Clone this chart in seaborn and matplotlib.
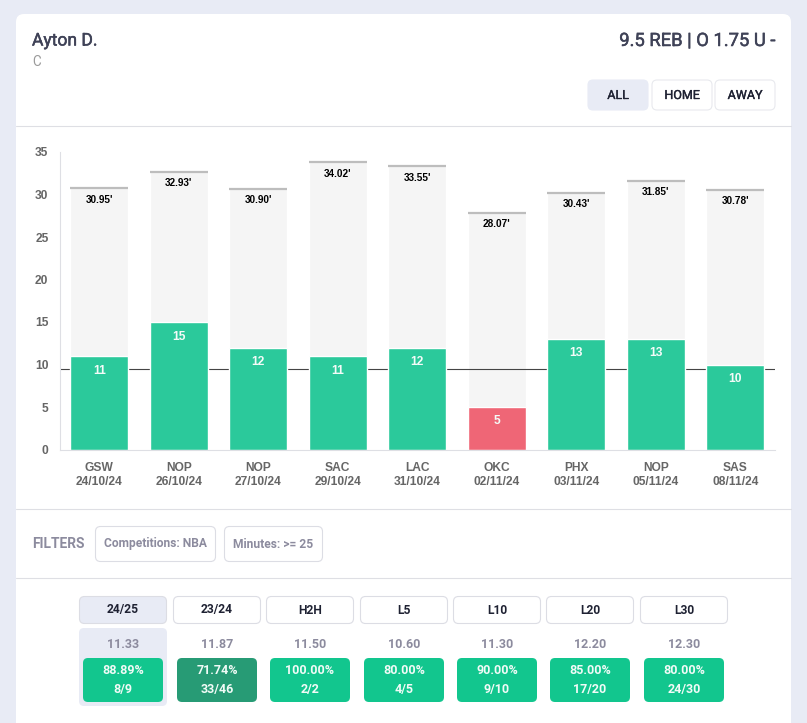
import matplotlib
matplotlib.use("Agg")
import matplotlib.patheffects as pe
import matplotlib.pyplot as plt
import matplotlib.transforms as mtrans
import pandas as pd
import seaborn as sns
from matplotlib.patches import FancyBboxPatch

W, H = 807, 723

opponents = ["GSW", "NOP", "NOP", "SAC", "LAC", "OKC", "PHX", "NOP", "SAS"]
dates = ["24/10/24", "26/10/24", "27/10/24", "29/10/24", "31/10/24", "02/11/24", "03/11/24", "05/11/24", "08/11/24"]
rebounds = [11, 15, 12, 11, 12, 5, 13, 13, 10]
minutes = [30.95, 32.93, 30.90, 34.02, 33.55, 28.07, 30.43, 31.85, 30.78]
prop_line = 9.5
y_ticks = [0, 5, 10, 15, 20, 25, 30, 35]

side_buttons = ["ALL", "HOME", "AWAY"]
filter_chips = ["Competitions: NBA", "Minutes: >= 25"]
tab_names = ["24/25", "23/24", "H2H", "L5", "L10", "L20", "L30"]
tab_avgs = ["11.33", "11.87", "11.50", "10.60", "11.30", "12.20", "12.30"]
tab_pcts = ["88.89%", "71.74%", "100.00%", "80.00%", "90.00%", "85.00%", "80.00%"]
tab_counts = ["8/9", "33/46", "2/2", "4/5", "9/10", "17/20", "24/30"]

BG = "#E8EBF5"
GREEN = "#2BC99B"
RED = "#EF6676"
GREY_BAR = "#F5F5F5"
CAP = "#BDBDBD"
RULE = "#DEDFE4"
BORDER = "#DCDDE4"
MUTED = "#8C8B9E"
INK = "#1F2233"

sns.set_theme(style="white")
plt.rcParams["font.family"] = ["Roboto", "DejaVu Sans"]


def px(size):
    return size * 0.72


def box(ax, x0, y0, x1, y1, fill="white", edge="none", radius=5, lw=0.8):
    ax.add_patch(FancyBboxPatch((x0, y0), x1 - x0, y1 - y0,
                                boxstyle=f"round,pad=0,rounding_size={radius}",
                                facecolor=fill, edgecolor=edge, linewidth=lw))


def medium(text, width=0.35):
    # roboto medium is not picked up by name, thicken the regular cut a little
    text.set_path_effects([pe.withStroke(linewidth=width, foreground=text.get_color())])


fig = plt.figure(figsize=(W / 100, H / 100), dpi=100, facecolor=BG)

# page furniture in pixel coordinates
page = fig.add_axes([0, 0, 1, 1])
page.set_xlim(0, W)
page.set_ylim(H, 0)
page.axis("off")

box(page, 16, 14, 791, 760, radius=8)
for y in [126, 509, 578]:
    page.plot([16, 791], [y, y], color=RULE, lw=0.8)

medium(page.text(32, 41, "Ayton D.", fontsize=px(17.5), color="#3F4257", va="center"))
page.text(32, 62, "C", fontsize=px(13.5), color="#9A9A9A", va="center")
medium(page.text(775, 41, "9.5 REB | O 1.75 U -", fontsize=px(18.4), color="#3F4257", va="center", ha="right"))

for i, (name, x0, x1) in enumerate(zip(side_buttons, [588, 652, 715], [648, 712, 775])):
    box(page, x0, 80, x1, 110, fill=BG if i == 0 else "white", edge=BG if i == 0 else "#E8E9EE")
    medium(page.text((x0 + x1) / 2, 95.5, name, fontsize=px(12.5), color=INK, ha="center", va="center"), 0.25)

page.text(32, 544, "FILTERS", fontsize=px(13.7), fontweight="bold", color=MUTED, va="center")
for name, x0, x1 in zip(filter_chips, [95.5, 224.5], [215.5, 322.5]):
    box(page, x0, 526.5, x1, 561.5, edge=BORDER)
    page.text((x0 + x1) / 2, 544, name, fontsize=px(12), fontweight="bold", color=MUTED,
              ha="center", va="center")

tab_left = [79.5, 173.5, 266.5, 360.5, 453.5, 546.5, 640.5]
box(page, 79, 628, 167, 706, fill=BG)
for i, left in enumerate(tab_left):
    right = left + 87
    mid = (left + right) / 2
    box(page, left, 596.5, right, 623.5, fill=BG if i == 0 else "white", edge=BORDER)
    page.text(mid, 610, tab_names[i], fontsize=px(12), fontweight="bold", color=INK,
              ha="center", va="center")
    page.text(mid, 645, tab_avgs[i], fontsize=px(12.5), fontweight="bold", color=MUTED,
              ha="center", va="center")
    box(page, left + 3.5, 658, left + 83.5, 702, fill="#279B75" if i == 1 else "#12C68E")
    page.text(mid, 671, tab_pcts[i], fontsize=px(12.5), fontweight="bold", color="#F1FBF7",
              ha="center", va="center")
    page.text(mid, 689, tab_counts[i], fontsize=px(12.5), fontweight="bold", color="#F1FBF7",
              ha="center", va="center")

# the chart itself
ax = fig.add_axes([59.5 / W, 1 - 449.5 / H, (775 - 59.5) / W, (449.5 - 152) / H])
ax.patch.set_alpha(0)

df = pd.DataFrame({"game": range(len(opponents)), "reb": rebounds, "mins": minutes})
df["over"] = df["reb"] > prop_line

sns.barplot(data=df, x="game", y="mins", color=GREY_BAR, saturation=1, width=0.73, ax=ax, zorder=1)
ax.axhline(prop_line, color="#444444", lw=0.8, zorder=1.5)
sns.barplot(data=df, x="game", y="reb", hue="over", dodge=False, palette={True: GREEN, False: RED},
            saturation=1, width=0.73, legend=False, ax=ax, zorder=2)

# cap sits just inside the top of the minutes bar
cap_trans = mtrans.offset_copy(ax.transData, fig=fig, y=-px(2), units="points")
ax.hlines(df["mins"], df["game"] - 0.365, df["game"] + 0.365, color=CAP, lw=1.6, zorder=2, transform=cap_trans)
for game, mins, reb in zip(df["game"], df["mins"], df["reb"]):
    ax.annotate(f"{mins:.2f}'", (game, mins), xytext=(0, -px(13.5)), textcoords="offset points",
                ha="center", va="center", fontsize=px(10), fontweight="bold", color="black",
                family="Liberation Sans", zorder=3)
    ax.annotate(str(reb), (game, reb), xytext=(0, -px(14.5)), textcoords="offset points",
                ha="center", va="center", fontsize=px(12), fontweight="bold", color="#F4FBF8",
                family="Liberation Sans", zorder=3)

ax.set_xlim(-0.5, 8.5)
ax.set_ylim(0, 35)
ax.set_yticks(y_ticks)
ax.set_xticks(df["game"])
ax.set_xticklabels([f"{o}\n{d}" for o, d in zip(opponents, dates)], family="Liberation Sans",
                   fontsize=px(12), fontweight="bold", color="#666666", linespacing=1.25)
ax.set_yticklabels(y_ticks, family="Liberation Sans", fontsize=px(12), fontweight="bold", color="#666666")
ax.tick_params(axis="x", length=0, pad=9)
ax.tick_params(axis="y", length=0, pad=8)
ax.set_xlabel("")
ax.set_ylabel("")
sns.despine(ax=ax)
for side in ["left", "bottom"]:
    ax.spines[side].set_color(RULE)
    ax.spines[side].set_linewidth(0.8)

fig.savefig("out.png", dpi=100, facecolor=BG)
